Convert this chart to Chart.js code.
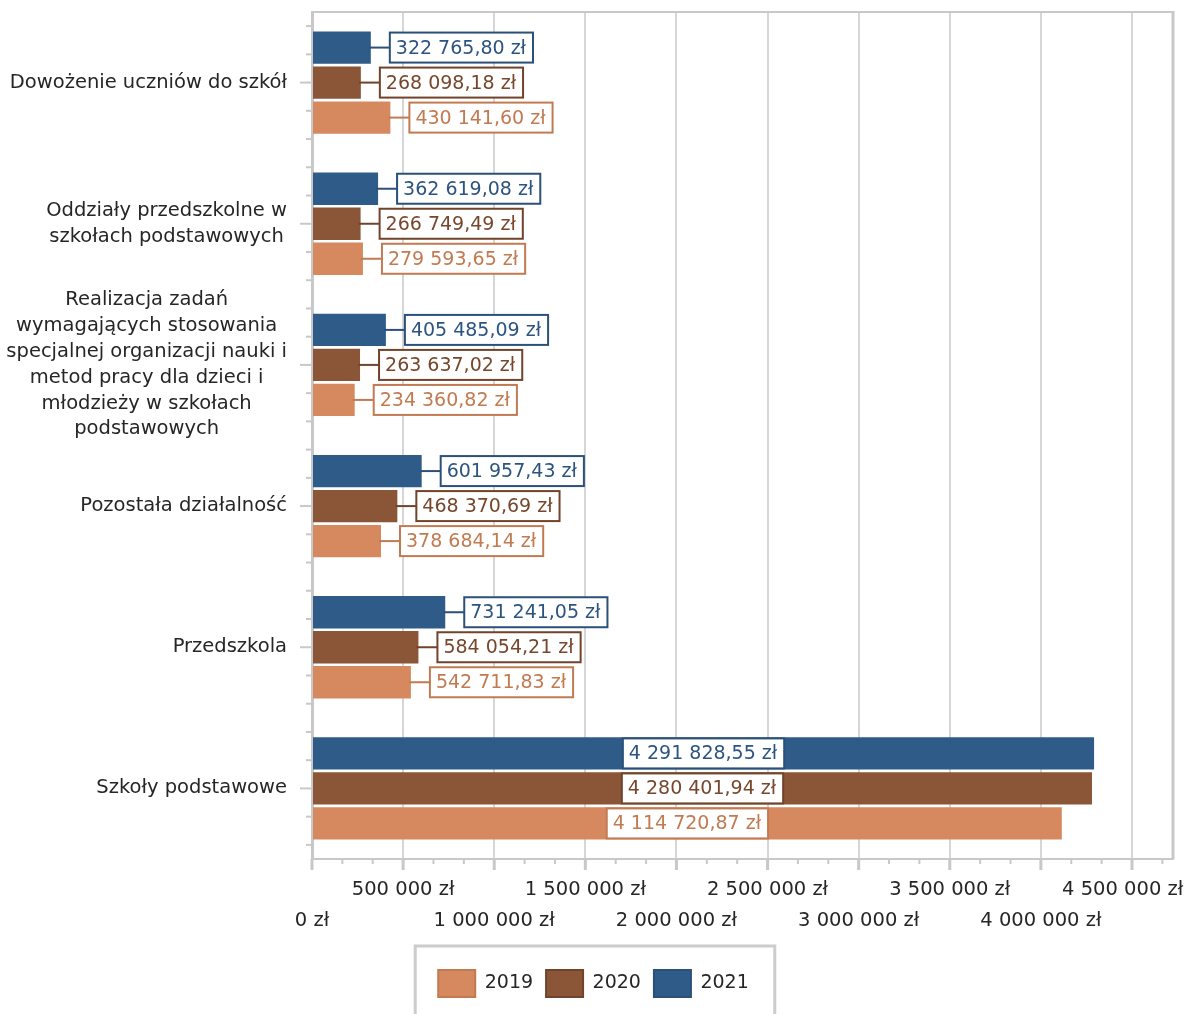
<!DOCTYPE html>
<html>
<head>
<meta charset="utf-8">
<script src="https://cdn.jsdelivr.net/npm/chart.js@4.4.0/dist/chart.umd.min.js"></script>
<style>
  html, body { margin: 0; padding: 0; background: #fff; }
  #wrap { width: 1189px; height: 1014px; }
</style>
</head>
<body>
<div id="wrap"><canvas id="chart"></canvas></div>
<script>
const categories = [
    'Dowożenie uczniów do szkół',
    ['Oddziały przedszkolne w', 'szkołach podstawowych'],
    ['Realizacja zadań', 'wymagających stosowania', 'specjalnej organizacji nauki i', 'metod pracy dla dzieci i', 'młodzieży w szkołach', 'podstawowych'],
    'Pozostała działalność',
    'Przedszkola',
    'Szkoły podstawowe'
]

// top to bottom inside each group: 2021, 2020, 2019
const years = ['2021', '2020', '2019']
const values2021 = [322765.80, 362619.08, 405485.09, 601957.43, 731241.05, 4291828.55]
const values2020 = [268098.18, 266749.49, 263637.02, 468370.69, 584054.21, 4280401.94]
const values2019 = [430141.60, 279593.65, 234360.82, 378684.14, 542711.83, 4114720.87]

const fillColor = ['#2f5b88', '#8a5637', '#d6895f']
const lineColor = ['#2b5079', '#71432a', '#c27a52']
const textColor = ['#2c5480', '#76472c', '#c27a50']

const axisMax = 4725000
const tickStep = 500000

const fmt = (v, dec) => {
    const parts = v.toFixed(dec).split('.')
    const int = parts[0].replace(/\B(?=(\d{3})+(?!\d))/g, ' ')
    return (parts[1] ? int + ',' + parts[1] : int) + ' zł'
}

Chart.defaults.font.family = 'DejaVu Sans'
Chart.defaults.color = '#262626'

const decor = {
    id: 'decor',
    afterDatasetsDraw(chart) {
        const ctx = chart.ctx
        ctx.save()
        ctx.font = '19px "DejaVu Sans"'
        ctx.textBaseline = 'middle'
        ctx.textAlign = 'left'
        chart.data.datasets.forEach((ds, di) => {
            chart.getDatasetMeta(di).data.forEach((bar, i) => {
                const txt = fmt(ds.data[i], 2)
                const w = ctx.measureText(txt).width + 13
                const h = 30
                let bx
                ctx.strokeStyle = lineColor[di]
                ctx.lineWidth = 2
                if (bar.x - bar.base > w + 40) {
                    bx = (bar.x + bar.base) / 2 - w / 2
                } else {
                    bx = bar.x + 19
                    ctx.beginPath()
                    ctx.moveTo(bar.x - 2, bar.y)
                    ctx.lineTo(bx, bar.y)
                    ctx.stroke()
                }
                ctx.fillStyle = '#fff'
                ctx.fillRect(bx, bar.y - h / 2, w, h)
                ctx.strokeRect(bx, bar.y - h / 2, w, h)
                ctx.fillStyle = textColor[di]
                ctx.fillText(txt, bx + 6, bar.y + 1)
            })
        })
        ctx.restore()
    },
    afterDraw(chart) {
        const {ctx, chartArea: a, scales: {x, y}} = chart
        ctx.save()
        ctx.strokeStyle = '#c8c8c8'

        // frame top and right
        ctx.lineWidth = 2
        ctx.beginPath()
        ctx.moveTo(a.left, a.top)
        ctx.lineTo(a.right, a.top)
        ctx.stroke()
        ctx.lineWidth = 3
        ctx.beginPath()
        ctx.moveTo(a.right, a.top - 1)
        ctx.lineTo(a.right, a.bottom)
        ctx.stroke()

        // x tick marks
        x.ticks.forEach((t, i) => {
            if (t.value >= axisMax) return
            const px = x.getPixelForValue(t.value)
            const major = i % 3 === 0
            ctx.lineWidth = major ? 3 : 2
            ctx.beginPath()
            ctx.moveTo(px, a.bottom)
            ctx.lineTo(px, a.bottom + (major ? 11 : 5))
            ctx.stroke()
        })

        // y tick marks
        const step = (y.getPixelForValue(1) - y.getPixelForValue(0)) / 5
        ctx.lineWidth = 2
        categories.forEach((c, i) => {
            const cy = y.getPixelForValue(i)
            for (let k = -2; k <= 2; k++) {
                ctx.beginPath()
                ctx.moveTo(a.left - (k === 0 ? 12 : 6), cy + k * step)
                ctx.lineTo(a.left, cy + k * step)
                ctx.stroke()
            }
        })

        // category labels (block right aligned, lines centred)
        ctx.font = '19.5px "DejaVu Sans"'
        ctx.fillStyle = '#262626'
        ctx.textAlign = 'center'
        ctx.textBaseline = 'middle'
        const lh = 25.8
        categories.forEach((c, i) => {
            const lines = Array.isArray(c) ? c : [c]
            const maxW = Math.max(...lines.map(l => ctx.measureText(l).width))
            const cx = 287 - maxW / 2
            const cy = y.getPixelForValue(i)
            lines.forEach((l, j) => {
                ctx.fillText(l, cx, cy + (j - (lines.length - 1) / 2) * lh)
            })
        })

        // legend frame
        const boxes = chart.legend.legendHitBoxes
        if (boxes.length) {
            const first = boxes[0]
            const last = boxes[boxes.length - 1]
            const l = first.left - 23
            const r = last.left + last.width + 26
            const t = chart.legend.top - 11
            ctx.lineWidth = 3
            ctx.strokeStyle = '#cccccc'
            ctx.strokeRect(l, t, r - l, 100)
        }
        ctx.restore()
    }
}

new Chart(document.getElementById('chart'), {
    type: 'bar',
    data: {
        labels: categories,
        datasets: [
            {label: years[0], data: values2021, backgroundColor: fillColor[0]},
            {label: years[1], data: values2020, backgroundColor: fillColor[1]},
            {label: years[2], data: values2019, backgroundColor: fillColor[2]}
        ].map(d => Object.assign(d, {borderWidth: 0, categoryPercentage: 0.744, barPercentage: 0.923}))
    },
    options: {
        indexAxis: 'y',
        responsive: true,
        maintainAspectRatio: false,
        animation: false,
        layout: {
            padding: {top: 12, right: 16, left: 14, bottom: 7}
        },
        scales: {
            y: {
                grid: {display: false},
                border: {color: '#c8c8c8', width: 3},
                ticks: {display: false},
                afterFit: s => { s.width = 298 }
            },
            x: {
                min: 0,
                max: axisMax,
                border: {color: '#c8c8c8', width: 2},
                grid: {
                    drawTicks: false,
                    lineWidth: 2,
                    color: c => (c.tick && c.tick.value < axisMax && c.index % 3 === 0) ? '#d6d6d6' : 'rgba(0,0,0,0)'
                },
                afterBuildTicks: s => {
                    const t = []
                    for (let k = 0; k * tickStep / 3 < axisMax; k++) t.push({value: Math.round(k * tickStep / 3)})
                    t.push({value: axisMax})
                    s.ticks = t
                },
                afterFit: s => { s.height = 98 },
                ticks: {
                    autoSkip: false,
                    maxRotation: 0,
                    minRotation: 0,
                    padding: 15,
                    color: '#262626',
                    font: {size: 19.5, lineHeight: 1.6},
                    callback: (v, i) => {
                        if (i % 3 !== 0 || v >= axisMax) return ''
                        let label = fmt(v, 0)
                        // last label is pushed left so it stays inside the canvas
                        if (v + tickStep > axisMax) label += '\u00a0\u00a0\u00a0'
                        return (i / 3) % 2 === 0 ? ['', label] : [label, '']
                    }
                }
            }
        },
        plugins: {
            legend: {
                position: 'bottom',
                reverse: true,
                labels: {
                    boxWidth: 37,
                    boxHeight: 27,
                    padding: 13,
                    color: '#262626',
                    font: {size: 19},
                    generateLabels: chart => {
                        const items = Chart.defaults.plugins.legend.labels.generateLabels(chart)
                        items.forEach(it => {
                            it.strokeStyle = lineColor[it.datasetIndex]
                            it.lineWidth = 2
                        })
                        return items
                    }
                }
            },
            tooltip: {enabled: false}
        }
    },
    plugins: [decor]
})
</script>
</body>
</html>
